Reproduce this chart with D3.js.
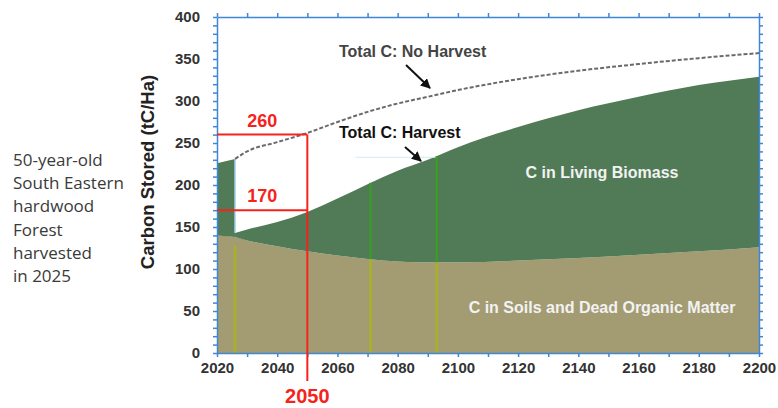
<!DOCTYPE html>
<html>
<head>
<meta charset="utf-8">
<script src="https://cdn.jsdelivr.net/npm/d3@7"></script>
<style>
  body { margin: 0; background: #fff; }
  svg { display: block; }
</style>
</head>
<body>
<div id="chart"></div>
<script>
    // values (tC/Ha)
    let preYears = [2020, 2026];
    let preSoil = [140, 138];
    let preTotal = [226, 231];

    let years = [2026, 2030, 2040, 2050, 2060, 2070, 2080, 2090, 2100, 2120, 2140, 2160, 2180, 2200];
    let soilC = [138, 134, 127, 121, 116, 112, 109, 108, 108, 110, 113, 117, 121, 126];
    let totalHarvest = [143, 147, 156, 168, 184, 201, 217, 230, 245, 269, 289, 305, 319, 329];
    let totalNoHarvest = [231, 240, 251, 262, 275, 287, 297, 305, 313, 326, 336, 344, 351, 357];

    let markerYears = [2071, 2093];
    let xTickLabels = [2020, 2040, 2060, 2080, 2100, 2120, 2140, 2160, 2180, 2200];
    let yTickLabels = [0, 50, 100, 150, 200, 250, 300, 350, 400];
    let noteLines = ["50-year-old", "South Eastern", "hardwood", "Forest", "harvested", "in 2025"];

    let compareYear = 2050, harvestAt2050 = 170, noHarvestAt2050 = 260;

    let width = 778, height = 408;
    let blue = "#3f86d6", green = "#517a56", tan = "#a39c72", red = "#f5231c";

    let svg = d3.select("#chart")
      .append("svg")
        .attr("width", width)
        .attr("height", height)
        .attr("font-family", "'Liberation Sans', Arial, sans-serif");

    let x = d3.scaleLinear().domain([2020, 2200]).range([217, 759]);
    let y = d3.scaleLinear().domain([0, 400]).range([353, 17]);

    // left note
    svg.append("g").selectAll("text")
        .data(noteLines)
        .enter()
        .append("text")
        .attr("x", 13)
        .attr("y", (d, i) => 166 + i * 23.2)
        .attr("font-family", "'Open Sans', 'Noto Sans', sans-serif")
        .attr("font-size", "17px")
        .attr("fill", "#3a3a3a")
        .text(d => d);

    // soil layer
    let allYears = preYears.concat(years.slice(1));
    let allSoil = preSoil.concat(soilC.slice(1));
    svg.append("path")
        .datum(allYears.map((d, i) => [d, allSoil[i]]))
        .attr("fill", tan)
        .attr("d", d3.area().curve(d3.curveMonotoneX)
            .x(d => x(d[0])).y0(y(0)).y1(d => y(d[1])));

    // living biomass before and after harvest
    svg.append("path")
        .datum(preYears.map((d, i) => [d, preSoil[i], preTotal[i]]))
        .attr("fill", green)
        .attr("d", d3.area().x(d => x(d[0])).y0(d => y(d[1])).y1(d => y(d[2])));

    svg.append("path")
        .datum(years.map((d, i) => [d, soilC[i], totalHarvest[i]]))
        .attr("fill", green)
        .attr("d", d3.area().curve(d3.curveMonotoneX)
            .x(d => x(d[0])).y0(d => y(d[1])).y1(d => y(d[2])));

    // thin light blue edges left from the original figure
    svg.append("line")
        .attr("x1", x(2026)).attr("x2", x(2026))
        .attr("y1", y(totalHarvest[0])).attr("y2", y(preTotal[1]))
        .attr("stroke", "#a9d6ee").attr("stroke-width", 1.5);
    svg.append("line")
        .attr("x1", x(2066)).attr("x2", x(2093))
        .attr("y1", y(233)).attr("y2", y(233))
        .attr("stroke", "#cfeaf5").attr("stroke-width", 1);

    // vertical marker lines
    let soilAt = d3.scaleLinear().domain(years).range(soilC);
    let totAt = d3.scaleLinear().domain(years).range(totalHarvest);
    svg.append("line")
        .attr("x1", x(2026)).attr("x2", x(2026))
        .attr("y1", y(0)).attr("y2", y(128))
        .attr("stroke", "#a9b226").attr("stroke-width", 2.5);
    markerYears.forEach(function(yr) {
        svg.append("line")
            .attr("x1", x(yr)).attr("x2", x(yr))
            .attr("y1", y(0)).attr("y2", y(soilAt(yr)))
            .attr("stroke", "#a9b226").attr("stroke-width", 2.5);
        svg.append("line")
            .attr("x1", x(yr)).attr("x2", x(yr))
            .attr("y1", y(soilAt(yr))).attr("y2", y(totAt(yr)))
            .attr("stroke", "#3c9a2c").attr("stroke-width", 2.5);
    });

    // no harvest dashed line
    svg.append("path")
        .datum(years.map((d, i) => [d, totalNoHarvest[i]]))
        .attr("fill", "none")
        .attr("stroke", "#6a6a6a")
        .attr("stroke-width", 2)
        .attr("stroke-dasharray", "4,2")
        .attr("d", d3.line().curve(d3.curveMonotoneX).x(d => x(d[0])).y(d => y(d[1])));

    // axes
    function styleAxis(g) {
        g.selectAll("path, line").attr("stroke", blue).attr("stroke-width", 1.5);
        g.selectAll("text")
            .attr("font-size", "15px")
            .attr("font-weight", "bold")
            .attr("fill", "#333")
            .attr("font-family", "'Liberation Sans', Arial, sans-serif");
    }
    let xTicks = d3.range(2020, 2201, 10);
    let yTicks = d3.range(0, 401, 10);

    svg.append("g")
        .attr("transform", "translate(0," + y(0) + ")")
        .call(d3.axisBottom(x).tickValues(xTicks).tickSize(4).tickSizeOuter(0).tickPadding(5)
            .tickFormat(d => xTickLabels.includes(d) ? d : ""))
        .call(styleAxis);
    svg.append("g")
        .attr("transform", "translate(0," + y(400) + ")")
        .call(d3.axisTop(x).tickValues(xTicks).tickSize(4).tickSizeOuter(0).tickFormat(""))
        .call(styleAxis);
    svg.append("g")
        .attr("transform", "translate(" + x(2020) + ",0)")
        .call(d3.axisLeft(y).tickValues(yTicks).tickSize(4).tickSizeOuter(0).tickPadding(13)
            .tickFormat(d => yTickLabels.includes(d) ? d : ""))
        .call(styleAxis);
    svg.append("g")
        .attr("transform", "translate(" + x(2200) + ",0)")
        .call(d3.axisRight(y).tickValues(yTicks).tickSize(4).tickSizeOuter(0).tickFormat(""))
        .call(styleAxis);

    svg.append("text")
        .attr("transform", "translate(154,172) rotate(-90)")
        .attr("text-anchor", "middle")
        .attr("font-size", "18.5px")
        .attr("font-weight", "bold")
        .attr("fill", "#222")
        .text("Carbon Stored (tC/Ha)");

    // red comparison lines
    [noHarvestAt2050, harvestAt2050].forEach(function(v) {
        svg.append("line")
            .attr("x1", x(2020)).attr("x2", x(compareYear))
            .attr("y1", y(v)).attr("y2", y(v))
            .attr("stroke", red).attr("stroke-width", 2);
        svg.append("text")
            .attr("x", (x(2020) + x(compareYear)) / 2)
            .attr("y", y(v) - 8)
            .attr("text-anchor", "middle")
            .attr("font-size", "18px")
            .attr("font-weight", "bold")
            .attr("fill", red)
            .text(v);
    });
    svg.append("line")
        .attr("x1", x(compareYear)).attr("x2", x(compareYear))
        .attr("y1", y(noHarvestAt2050)).attr("y2", 381)
        .attr("stroke", red).attr("stroke-width", 2);
    svg.append("text")
        .attr("x", x(compareYear))
        .attr("y", 403)
        .attr("text-anchor", "middle")
        .attr("font-size", "20px")
        .attr("font-weight", "bold")
        .attr("fill", red)
        .text(compareYear);

    // labels and arrows
    svg.append("defs").append("marker")
        .attr("id", "head")
        .attr("viewBox", "0 0 10 10")
        .attr("refX", 9).attr("refY", 5)
        .attr("markerWidth", 5).attr("markerHeight", 5)
        .attr("orient", "auto")
      .append("path")
        .attr("d", "M0,0L10,5L0,10z")
        .attr("fill", "#111");

    svg.append("text")
        .attr("x", 339).attr("y", 57)
        .attr("font-size", "16px").attr("font-weight", "bold").attr("fill", "#444")
        .text("Total C: No Harvest");
    svg.append("line")
        .attr("x1", 406).attr("y1", 65).attr("x2", 430).attr("y2", 88)
        .attr("stroke", "#111").attr("stroke-width", 2)
        .attr("marker-end", "url(#head)");

    svg.append("text")
        .attr("x", 339).attr("y", 138)
        .attr("font-size", "16px").attr("font-weight", "bold").attr("fill", "#111")
        .text("Total C: Harvest");
    svg.append("line")
        .attr("x1", 405).attr("y1", 147).attr("x2", 421).attr("y2", 161)
        .attr("stroke", "#111").attr("stroke-width", 2)
        .attr("marker-end", "url(#head)");

    svg.append("text")
        .attr("x", 602).attr("y", 178)
        .attr("text-anchor", "middle")
        .attr("font-size", "16px").attr("font-weight", "bold").attr("fill", "#f2f2f2")
        .text("C in Living Biomass");
    svg.append("text")
        .attr("x", 602).attr("y", 313)
        .attr("text-anchor", "middle")
        .attr("font-size", "16px").attr("font-weight", "bold").attr("fill", "#f2f2f2")
        .text("C in Soils and Dead Organic Matter");
</script>
</body>
</html>
